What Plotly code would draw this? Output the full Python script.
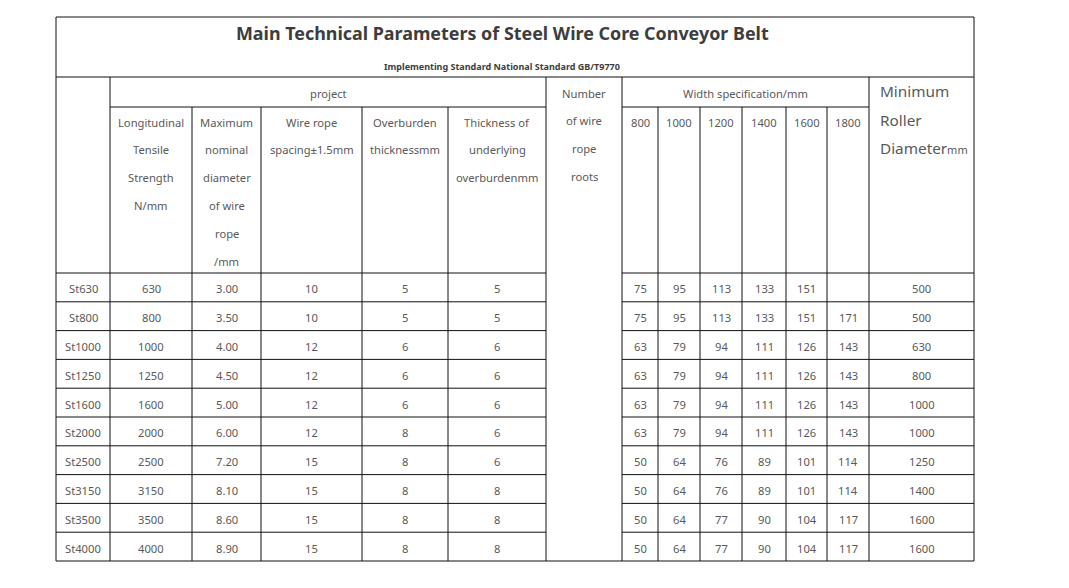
import plotly.graph_objects as go

# ---- table data ----
title = "Main Technical Parameters of Steel Wire Core Conveyor Belt"
subtitle = "Implementing Standard National Standard GB/T9770"

grades = ["St630", "St800", "St1000", "St1250", "St1600", "St2000",
          "St2500", "St3150", "St3500", "St4000"]
tensile = [630, 800, 1000, 1250, 1600, 2000, 2500, 3150, 3500, 4000]
rope_diam = ["3.00", "3.50", "4.00", "4.50", "5.00", "6.00", "7.20", "8.10", "8.60", "8.90"]
rope_spacing = [10, 10, 12, 12, 12, 12, 15, 15, 15, 15]
cover_top = [5, 5, 6, 6, 6, 8, 8, 8, 8, 8]
cover_bottom = [5, 5, 6, 6, 6, 6, 6, 8, 8, 8]

widths = [800, 1000, 1200, 1400, 1600, 1800]
ropes_800 = [75, 75, 63, 63, 63, 63, 50, 50, 50, 50]
ropes_1000 = [95, 95, 79, 79, 79, 79, 64, 64, 64, 64]
ropes_1200 = [113, 113, 94, 94, 94, 94, 76, 76, 77, 77]
ropes_1400 = [133, 133, 111, 111, 111, 111, 89, 89, 90, 90]
ropes_1600 = [151, 151, 126, 126, 126, 126, 101, 101, 104, 104]
ropes_1800 = [None, 171, 143, 143, 143, 143, 114, 114, 117, 117]
roller_diam = [500, 500, 630, 800, 1000, 1000, 1250, 1400, 1600, 1600]

project_heads = [
    ["Longitudinal", "Tensile", "Strength", "N/mm"],
    ["Maximum", "nominal", "diameter", "of wire", "rope", "/mm"],
    ["Wire rope", "spacing±1.5mm"],
    ["Overburden", "thicknessmm"],
    ["Thickness of", "underlying", "overburdenmm"],
]
number_head = ["Number", "of wire", "rope", "roots"]
roller_head = ["Minimum", "Roller", "Diameter<span style='font-size:11px'>mm</span>"]

# ---- geometry (page pixel coordinates; page body has an 8px margin) ----
W, H = 1069, 588
PAD = 8
X = [56, 110, 192, 261, 362, 448, 546, 622, 658, 700, 742, 786, 827, 869, 974]
Y_TOP, Y_TITLE, Y_PROJ, Y_HEAD, Y_BOT = 17, 77, 107, 273, 561
ROW_H = (Y_BOT - Y_HEAD) / len(grades)
LINE_STEP = 27.8

TXT = "#595959"
FONT = "Noto Sans"
CELL = 11.2
LINE = dict(color="#111111", width=1)

fig = go.Figure()


def hline(y, x0, x1):
    fig.add_shape(type="line", x0=x0, x1=x1, y0=y, y1=y, xref="x", yref="y", line=LINE)


def vline(x, y0, y1):
    fig.add_shape(type="line", x0=x, x1=x, y0=y0, y1=y1, xref="x", yref="y", line=LINE)


def text(x, y, s, size=CELL, color=TXT, bold=False, xanchor="center"):
    if bold:
        s = f"<b>{s}</b>"
    fig.add_annotation(x=x, y=y, text=s, showarrow=False, xref="x", yref="y",
                       xanchor=xanchor, yanchor="middle",
                       font=dict(family=FONT, size=size, color=color))


# grid lines
for xx in (X[0], X[-1]):
    vline(xx, Y_TOP, Y_BOT)
for xx in (X[1], X[6], X[7], X[13]):
    vline(xx, Y_TITLE, Y_BOT)
for xx in X[2:6] + X[8:13]:
    vline(xx, Y_PROJ, Y_BOT)

hline(Y_TOP, X[0], X[-1])
hline(Y_TITLE, X[0], X[-1])
hline(Y_PROJ, X[1], X[6])
hline(Y_PROJ, X[7], X[13])
for i in range(len(grades)):
    yy = Y_HEAD + i * ROW_H
    hline(yy, X[0], X[6])
    hline(yy, X[7], X[-1])
hline(Y_BOT, X[0], X[-1])

# titles
text(502, 33, title, size=17.9, color="#3d3d3d", bold=True)
text(502, 66, subtitle, size=9, color="#3d3d3d", bold=True)

# header
text((X[1] + X[6]) / 2, 93, "project")
text((X[7] + X[13]) / 2, 93, "Width specification/mm")
for c, lines in enumerate(project_heads):
    cx = (X[c + 1] + X[c + 2]) / 2
    for k, s in enumerate(lines):
        text(cx, 122 + k * LINE_STEP, s)
for k, s in enumerate(number_head):
    text((X[6] + X[7]) / 2, 93 + k * LINE_STEP, s)
for c, w in enumerate(widths):
    text((X[c + 7] + X[c + 8]) / 2, 122, str(w))
for k, s in enumerate(roller_head):
    text(878, 91 + k * 28.5, s, size=15.3, xanchor="left")

# body
cols = [grades, tensile, rope_diam, rope_spacing, cover_top, cover_bottom]
width_cols = [ropes_800, ropes_1000, ropes_1200, ropes_1400, ropes_1600, ropes_1800]
for r in range(len(grades)):
    cy = Y_HEAD + (r + 0.5) * ROW_H + 1.5
    for c, col in enumerate(cols):
        text((X[c] + X[c + 1]) / 2, cy, str(col[r]))
    for c, col in enumerate(width_cols):
        if col[r] is not None:
            text((X[c + 7] + X[c + 8]) / 2, cy, str(col[r]))
    text((X[13] + X[14]) / 2, cy, str(roller_diam[r]))

fig.update_layout(
    width=W - PAD, height=H - PAD,
    margin=dict(l=0, r=0, t=0, b=0),
    paper_bgcolor="white", plot_bgcolor="white",
    xaxis=dict(range=[PAD, W], visible=False, fixedrange=True),
    yaxis=dict(range=[H, PAD], visible=False, fixedrange=True),
    showlegend=False,
)

fig.write_html("out.html")
